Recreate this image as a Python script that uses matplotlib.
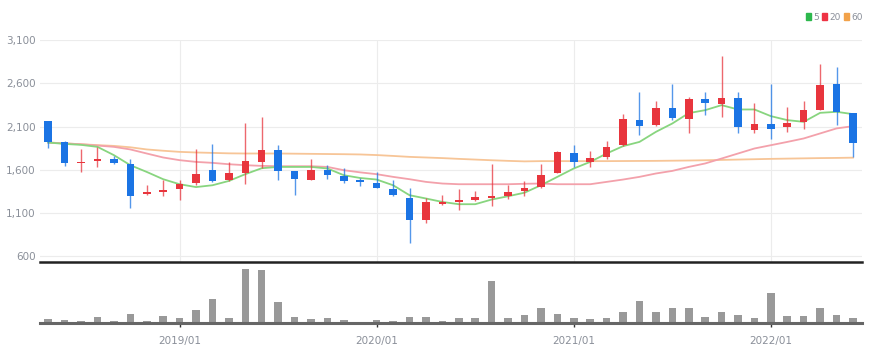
import matplotlib
matplotlib.use("Agg")
import matplotlib.pyplot as plt
from matplotlib.patches import Patch
import numpy as np

# monthly candles 2018/05 .. 2022/06
months = [f"{2018 + (4 + i) // 12}/{(4 + i) % 12 + 1:02d}" for i in range(50)]

opens = [2162, 1919, 1680, 1699, 1726, 1664, 1325, 1340, 1379, 1448,
         1599, 1479, 1568, 1688, 1827, 1591, 1479, 1599, 1529, 1479,
         1448, 1379, 1275, 1025, 1210, 1225, 1256, 1271, 1298, 1352,
         1402, 1557, 1795, 1688, 1742, 1881, 2174, 2116, 2316, 2189,
         2420, 2355, 2428, 2058, 2124, 2089, 2154, 2289, 2587, 2251]
highs = [2165, 1927, 1835, 1865, 1760, 1719, 1425, 1487, 1479, 1835,
         1896, 1688, 2135, 2205, 1892, 1591, 1719, 1656, 1622, 1502,
         1572, 1479, 1395, 1279, 1306, 1379, 1356, 1664, 1429, 1468,
         1664, 1815, 1888, 1818, 1934, 2243, 2501, 2393, 2587, 2443,
         2501, 2914, 2501, 2374, 2587, 2327, 2393, 2818, 2790, 2251]
lows = [1846, 1645, 1580, 1633, 1664, 1159, 1306, 1294, 1256, 1421,
        1460, 1471, 1433, 1618, 1487, 1314, 1479, 1495, 1445, 1410,
        1387, 1298, 758, 985, 1198, 1140, 1236, 1186, 1267, 1298,
        1390, 1557, 1633, 1633, 1726, 1873, 2000, 2104, 2174, 2020,
        2231, 2212, 2020, 2020, 1954, 2035, 2066, 2289, 2116, 1749]
closes = [1922, 1684, 1695, 1722, 1680, 1298, 1344, 1364, 1433, 1549,
          1471, 1568, 1699, 1827, 1587, 1491, 1595, 1537, 1476, 1456,
          1395, 1309, 1025, 1228, 1233, 1256, 1286, 1298, 1344, 1390,
          1541, 1811, 1688, 1734, 1865, 2182, 2104, 2316, 2200, 2420,
          2374, 2432, 2089, 2124, 2066, 2143, 2289, 2578, 2266, 1904]

ma5 = [1915, 1899, 1888, 1865, 1769, 1653, 1575, 1491, 1433, 1400,
       1421, 1471, 1549, 1618, 1633, 1633, 1633, 1615, 1537, 1505,
       1487, 1421, 1306, 1268, 1228, 1202, 1202, 1256, 1294, 1335,
       1421, 1518, 1615, 1691, 1788, 1873, 1922, 2038, 2135, 2255,
       2289, 2347, 2297, 2297, 2220, 2174, 2154, 2258, 2270, 2243]
ma20 = [1915, 1905, 1895, 1880, 1865, 1835, 1788, 1742, 1711, 1691,
        1680, 1664, 1653, 1645, 1641, 1641, 1641, 1633, 1595, 1570,
        1549, 1518, 1491, 1460, 1441, 1433, 1433, 1433, 1433, 1438,
        1441, 1433, 1433, 1433, 1460, 1487, 1518, 1557, 1587, 1633,
        1673, 1730, 1788, 1846, 1884, 1922, 1962, 2020, 2078, 2104]
ma60 = [1915, 1905, 1895, 1885, 1876, 1860, 1835, 1820, 1807, 1800,
        1795, 1790, 1788, 1788, 1788, 1786, 1784, 1782, 1780, 1777,
        1770, 1760, 1749, 1742, 1735, 1726, 1718, 1710, 1703, 1697,
        1700, 1700, 1700, 1700, 1700, 1701, 1702, 1703, 1705, 1707,
        1710, 1714, 1718, 1722, 1726, 1729, 1732, 1735, 1737, 1740]

volumes = [40, 33, 23, 67, 23, 90, 23, 73, 50, 133,
           240, 50, 540, 533, 217, 67, 40, 57, 33, 13,
           33, 23, 60, 60, 23, 50, 50, 423, 57, 83,
           150, 90, 57, 40, 50, 117, 223, 110, 150, 150,
           67, 110, 83, 50, 300, 73, 73, 157, 83, 57]

price_ticks = [600, 1100, 1600, 2100, 2600, 3100]
year_ticks = ["2019/01", "2020/01", "2021/01", "2022/01"]

UP = "#e8353d"
DOWN = "#1b74e4"
TXT = "#8a8f99"
plt.rcParams["font.family"] = ["Liberation Sans Narrow", "DejaVu Sans"]

fig = plt.figure(figsize=(8.79, 3.64), dpi=100)
ax = fig.add_axes([40 / 879, 1 - 262 / 364, 822 / 879, 222 / 364])
axv = fig.add_axes([40 / 879, 1 - 323.3 / 364, 822 / 879, 59.3 / 364])

x = np.arange(len(months))
o, h, l, c = map(np.array, (opens, highs, lows, closes))
colors = [UP if cc >= oo else DOWN for oo, cc in zip(o, c)]

ax.plot(x, ma60, color="#f7c597", lw=1.3, zorder=2)
ax.plot(x, ma20, color="#f3a1ab", lw=1.3, zorder=2)
ax.plot(x, ma5, color="#88d57f", lw=1.3, zorder=2)

ax.vlines(x, l, h, colors=colors, lw=1.0, alpha=0.75, zorder=3)
body_lo = np.minimum(o, c)
body_h = np.maximum(np.abs(c - o), 12)
ax.bar(x, body_h, bottom=body_lo, width=0.46, color=colors, zorder=4)

ax.set_xlim(-0.5, 49.55)
ax.set_ylim(534, 3100)
ax.set_yticks(price_ticks)
ax.set_yticklabels([f"{t:,}" for t in price_ticks])
tick_idx = [months.index(t) for t in year_ticks]
ax.set_xticks(tick_idx)
ax.set_xticklabels([])
ax.grid(True, color="#ececec", lw=0.8)
ax.set_axisbelow(True)
ax.tick_params(axis="y", length=0, pad=3, labelsize=7.5, labelcolor=TXT)
ax.tick_params(axis="x", length=0)
for s in ("top", "right", "left"):
    ax.spines[s].set_visible(False)
ax.spines["bottom"].set_color("#222222")
ax.spines["bottom"].set_linewidth(1.8)

axv.bar(x, volumes, width=0.46, color="#999999", zorder=2)
axv.axhline(0, color="#666666", lw=2.2, zorder=3, clip_on=False)
axv.set_xlim(-0.5, 49.55)
axv.set_ylim(0, 593)
axv.set_yticks([])
axv.set_xticks(tick_idx)
axv.set_xticklabels(year_ticks)
axv.tick_params(axis="x", length=3, width=1, color="#333333", pad=6,
                labelsize=7.5, labelcolor=TXT)
for s in axv.spines.values():
    s.set_visible(False)

handles = [Patch(color="#2db84d", label="5"),
           Patch(color="#ee3344", label="20"),
           Patch(color="#f2a24a", label="60")]
fig.legend(handles=handles, loc="upper right", bbox_to_anchor=(0.986, 0.975),
           ncol=3, frameon=False, fontsize=6.5, handlelength=0.55,
           handleheight=0.9, handletextpad=0.25, columnspacing=0.4,
           labelcolor=TXT, borderaxespad=0)

fig.savefig("out.png", dpi=100, facecolor="white")
